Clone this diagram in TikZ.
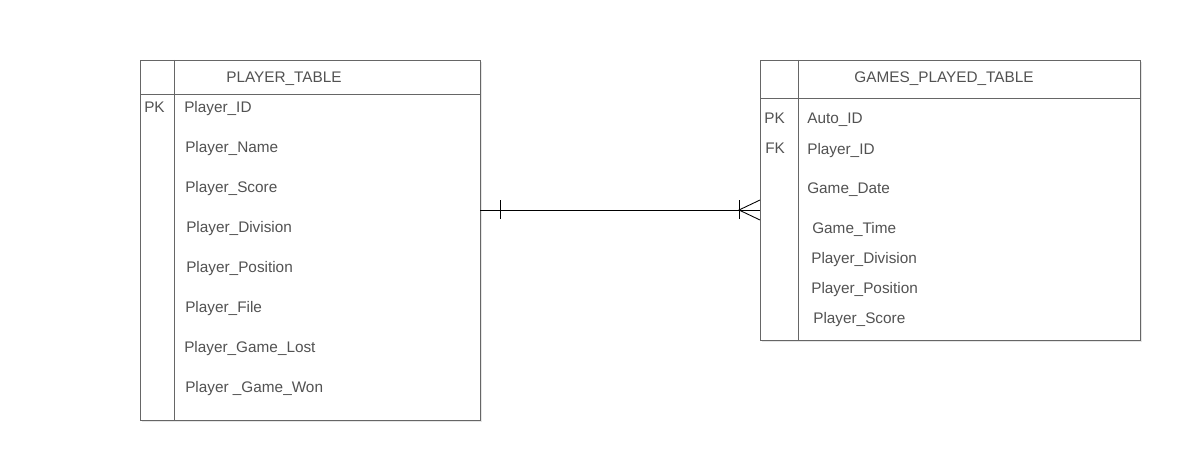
\documentclass[tikz,border=0pt]{standalone}
\usepackage{fontspec}
\setmainfont{Liberation Sans}
\usetikzlibrary{shadows}

\begin{document}
\begin{tikzpicture}[x=0.75pt, y=-0.75pt,
		table_style/.style={draw=black!60,fill=white,line width=0.75pt,anchor=north west,inner sep=0pt,
			drop shadow={opacity=0.2,shadow xshift=0.8pt,shadow yshift=-1.2pt}},
		field_style/.style={anchor=base west,inner sep=0pt,text=black!68,font=\fontsize{11.5}{13}\selectfont},
		head_style/.style={anchor=base,inner sep=0pt,text=black!68,font=\fontsize{11.5}{13}\selectfont},
		line_style/.style={draw=black!60,line width=0.75pt},
		edge_style/.style={draw=black,line width=0.65pt}]

		\useasboundingbox (0,0) rectangle (1180,460);

		\node[table_style,minimum width=255pt,minimum height=270pt] (player_table) at (140,60) {};
		\node[table_style,minimum width=285pt,minimum height=210pt] (games_table) at (760,60) {};

		\draw[line_style] (174,60) -- (174,420);
		\draw[line_style] (140,94) -- (480,94);
		\draw[line_style] (798,60) -- (798,340);
		\draw[line_style] (760,98) -- (1140,98);

		\node[head_style] (h1) at (284,82) {PLAYER\_TABLE};
		\node[field_style] (k1) at (144,112) {PK};
		\node[field_style] (p1) at (184,112) {Player\_ID};
		\node[field_style] (p2) at (185,152) {Player\_Name};
		\node[field_style] (p3) at (185,192) {Player\_Score};
		\node[field_style] (p4) at (186,232) {Player\_Division};
		\node[field_style] (p5) at (186,272) {Player\_Position};
		\node[field_style] (p6) at (185,312) {Player\_File};
		\node[field_style] (p7) at (184,352) {Player\_Game\_Lost};
		\node[field_style] (p8) at (185,392) {Player \_Game\_Won};

		\node[head_style] (h2) at (944,83) {GAMES\_PLAYED\_TABLE};
		\node[field_style] (k2) at (764,123) {PK};
		\node[field_style] (k3) at (765,153) {FK};
		\node[field_style] (g1) at (807,123) {Auto\_ID};
		\node[field_style] (g2) at (807,154) {Player\_ID};
		\node[field_style] (g3) at (807,193) {Game\_Date};
		\node[field_style] (g4) at (812,233) {Game\_Time};
		\node[field_style] (g5) at (811,263) {Player\_Division};
		\node[field_style] (g6) at (811,293) {Player\_Position};
		\node[field_style] (g7) at (813,323) {Player\_Score};

		\coordinate (c1) at (480,210);
		\coordinate (c2) at (760,210);
		\coordinate (c3) at (739,210);
		\draw[edge_style] (c1) -- (c2);
		\draw[edge_style] (500,200) -- (500,219);
		\draw[edge_style] (739,200) -- (739,219);
		\draw[edge_style] (760,200) -- (c3) -- (760,220);
\end{tikzpicture}
\end{document}
